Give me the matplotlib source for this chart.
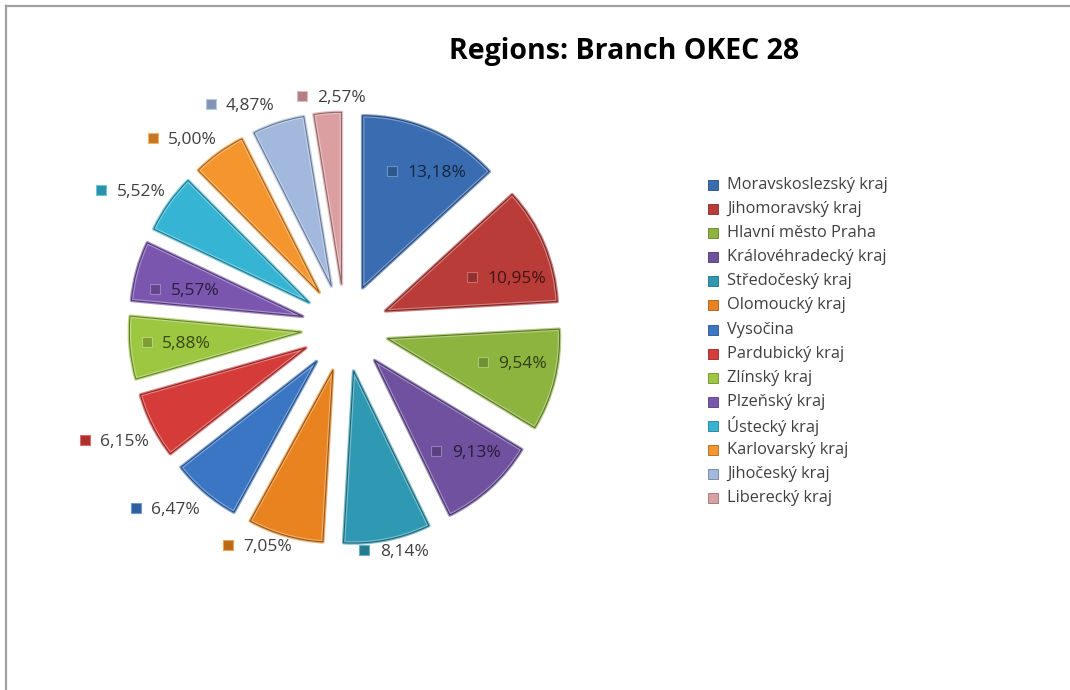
import numpy as np
import matplotlib
matplotlib.use('Agg')
import matplotlib.pyplot as plt
from matplotlib.colors import to_rgb
from matplotlib.lines import Line2D

plt.rcParams['font.family'] = ['Open Sans', 'DejaVu Sans']

# Data
regions = ['Moravskoslezský kraj', 'Jihomoravský kraj', 'Hlavní město Praha',
           'Královéhradecký kraj', 'Středočeský kraj', 'Olomoucký kraj',
           'Vysočina', 'Pardubický kraj', 'Zlínský kraj', 'Plzeňský kraj',
           'Ústecký kraj', 'Karlovarský kraj', 'Jihočeský kraj', 'Liberecký kraj']
shares = [13.18, 10.95, 9.54, 9.13, 8.14, 7.05, 6.47, 6.15, 5.88, 5.57,
          5.52, 5.00, 4.87, 2.57]
colors = ['#3A6CB2', '#B93C39', '#8CB43E', '#6F51A0', '#2F99B3', '#E8831F',
          '#3B76C5', '#D43B39', '#9DC641', '#7A56AF', '#36B4D3', '#F5952E',
          '#A2B8DD', '#DC9FA1']

# label placement: radius (pie radii) and angular nudge (deg) per slice
label_r = [1.00, 0.95, 0.99, 1.01, 1.33, 1.37, 1.49, 1.50, 0.99, 0.96,
           1.48, 1.45, 1.43, 1.34]
label_dang = [-2.3, -5.4, 1.8, 1.4, 0.9, -5.9, -4.4, -0.7, 0.0, 2.5,
              3.0, 5.2, 7.4, -1.1]
inside = [r < 1.1 for r in label_r]

def shade(c, f):
    r, g, b = to_rgb(c)
    if f < 0:
        return (r * (1 + f), g * (1 + f), b * (1 + f))
    return (r + (1 - r) * f, g + (1 - g) * f, b + (1 - b) * f)

W, H = 1070, 690
fig = plt.figure(figsize=(W / 100, H / 100), dpi=100)
fig.patch.set_facecolor('white')

# chart border (top and left visible)
fig.add_artist(Line2D([6 / W, 6 / W], [0, 1 - 6 / H], transform=fig.transFigure,
                      color='#a0a0a0', lw=1.6))
fig.add_artist(Line2D([6 / W, 1], [1 - 6 / H, 1 - 6 / H], transform=fig.transFigure,
                      color='#a0a0a0', lw=1.6))

# pie axes: centre at (345, 328) px, radius 172 px
cx, cy, R = 345, 328, 172
half = 1.6
ax = fig.add_axes([(cx - half * R) / W, (H - cy - half * R) / H,
                   2 * half * R / W, 2 * half * R / H])

explode = [0.255] * len(shares)
wedges, _ = ax.pie(shares, explode=explode, startangle=90, counterclock=False,
                   colors=colors, radius=1.0,
                   wedgeprops=dict(edgecolor='none', linewidth=0))
for w, c in zip(wedges, colors):
    w.set_edgecolor(shade(c, 0.35))
    w.set_linewidth(2.5)
    w.set_joinstyle('round')
# thin dark outline over the bevel
wedges2, _ = ax.pie(shares, explode=explode, startangle=90, counterclock=False,
                    colors=colors, radius=1.0,
                    wedgeprops=dict(linewidth=0.8))
for w, c in zip(wedges2, colors):
    w.set_edgecolor(shade(c, -0.35))
    w.set_facecolor('none')

ax.set_xlim(-half, half)
ax.set_ylim(-half, half)
ax.set_aspect('equal')
ax.axis('off')

# data labels
total = sum(shares)
cum = 0.0
for v, c, r, da, ins in zip(shares, colors, label_r, label_dang, inside):
    mid = np.radians(90 - (cum + v / 2) / total * 360 + da)
    cum += v
    x, y = r * np.cos(mid), r * np.sin(mid)
    txt = f'{v:.2f}%'.replace('.', ',')
    tcol = shade(c, -0.65) if ins else '#404040'
    ax.text(x - 0.078, y, txt, ha='left', va='center', fontsize=12.5,
            color=tcol, clip_on=False, zorder=5)
    ax.plot(x - 0.168, y + 0.012, marker='s', ms=6.5, color=shade(c, -0.2),
            markeredgecolor=shade(c, 0.25), mew=0.8, clip_on=False, zorder=5)

# title
fig.text(624 / W, 1 - 52 / H, 'Regions: Branch OKEC 28', ha='center', va='center',
         fontsize=20.5, fontweight='bold', color='black')

# legend (drawn row by row)
for i, (name, c) in enumerate(zip(regions, colors)):
    yy = 1 - (185 + 24.1 * i) / H
    fig.add_artist(Line2D([713 / W], [yy], transform=fig.transFigure, marker='s',
                          ms=7, ls='none', color=c,
                          markeredgecolor=shade(c, -0.3), mew=0.6))
    fig.text(727 / W, yy, name, ha='left', va='center', fontsize=11.8,
             color='#404040')

fig.savefig('out.png', dpi=100)
